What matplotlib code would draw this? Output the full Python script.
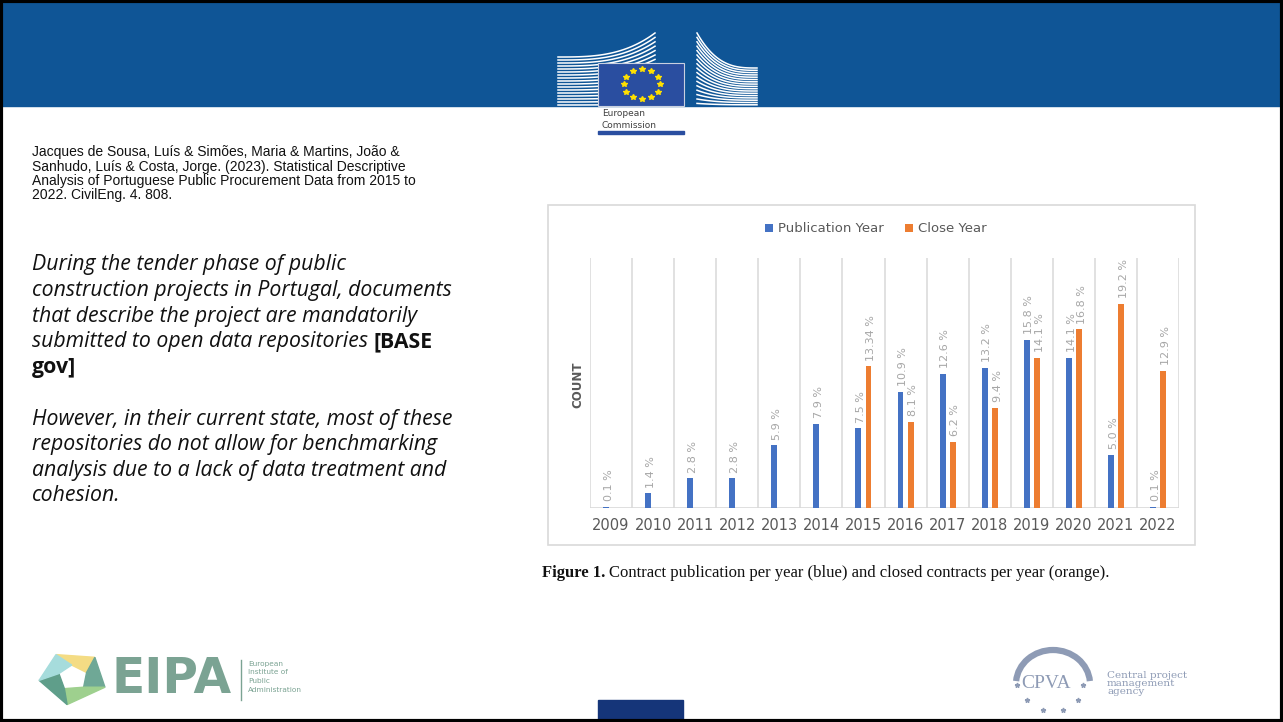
import numpy as np
import matplotlib
matplotlib.use("Agg")
import matplotlib.pyplot as plt
from matplotlib.patches import Rectangle, Polygon, Arc
from matplotlib.lines import Line2D

W, H = 1283, 722

years = [2009, 2010, 2011, 2012, 2013, 2014, 2015, 2016, 2017, 2018, 2019, 2020, 2021, 2022]
publication = [0.1, 1.4, 2.8, 2.8, 5.9, 7.9, 7.5, 10.9, 12.6, 13.2, 15.8, 14.1, 5.0, 0.1]
close = [None, None, None, None, None, None, 13.34, 8.1, 6.2, 9.4, 14.1, 16.8, 19.2, 12.9]

citation = ["Jacques de Sousa, Luís & Simões, Maria & Martins, João &",
            "Sanhudo, Luís & Costa, Jorge. (2023). Statistical Descriptive",
            "Analysis of Portuguese Public Procurement Data from 2015 to",
            "2022. CivilEng. 4. 808."]
para1 = ["During the tender phase of public",
         "construction projects in Portugal, documents",
         "that describe the project are mandatorily",
         "submitted to open data repositories "]
para2 = ["However, in their current state, most of these",
         "repositories do not allow for benchmarking",
         "analysis due to a lack of data treatment and",
         "cohesion."]

BLUE = "#4472c4"
ORANGE = "#ed7d31"
GREY = "#595959"


def fx(x):
    return x / W


def fy(y):
    return 1 - y / H


fig = plt.figure(figsize=(W / 100, H / 100), dpi=100)
fig.patch.set_facecolor("white")
r = fig.canvas.get_renderer()

# header band
fig.add_artist(Rectangle((0, fy(106)), 1, 106 / H, transform=fig.transFigure,
                         color="#0f5596", zorder=1))

# EC logo: building wings
for i in range(17):
    yl = 57 + i * 3
    yr = 33 + i * 4.4
    xs = np.linspace(558, 655, 40)
    t = (xs - 558) / 97
    ys = yl + (yr - yl) * t ** 3
    ys = np.minimum(ys, 105)
    fig.add_artist(Line2D(fx(xs), fy(ys), transform=fig.transFigure,
                          color="white", lw=1.1, zorder=2))
for i in range(17):
    yl = 33 + i * 4.4
    yr = 68 + i * 2.3
    xs = np.linspace(697, 757, 40)
    t = 1 - (xs - 697) / 60
    ys = yr + (yl - yr) * t ** 3
    ys = np.minimum(ys, 105)
    fig.add_artist(Line2D(fx(xs), fy(ys), transform=fig.transFigure,
                          color="white", lw=1.1, zorder=2))
fig.add_artist(Rectangle((fx(598), fy(106)), 86 / W, 43 / H, transform=fig.transFigure,
                         facecolor="#2a4ea0", edgecolor="#c8d0e0", lw=0.8, zorder=3))
ang = np.arange(12) * np.pi / 6
fig.add_artist(Line2D(fx(642 + 18 * np.cos(ang)), fy(84 + 15 * np.sin(ang)),
                      transform=fig.transFigure, ls="none", marker="*", ms=4.2,
                      color="#ffe000", mec="#ffe000", zorder=4))
fig.text(fx(602), fy(114), "European", fontsize=6.5, color="#404040", va="center")
fig.text(fx(602), fy(125), "Commission", fontsize=6.5, color="#404040", va="center")
fig.add_artist(Rectangle((fx(598), fy(134)), 86 / W, 3 / H, transform=fig.transFigure,
                         color="#2a4ea0", zorder=3))

# citation
for i, line in enumerate(citation):
    fig.text(fx(32), fy(152 + i * 14.5), line, fontsize=10, family="Liberation Sans",
             color="#111111", va="center")

# italic paragraphs
pfont = dict(family="Open Sans", fontsize=15.3, color="#111111", va="center")
for i, line in enumerate(para1):
    t = fig.text(fx(32), fy(265 + i * 25.6), line, style="italic", **pfont)
bb = t.get_window_extent(r)
fig.text(bb.x1 / W, fy(265 + 3 * 25.6), "[BASE", weight="bold", **pfont)
fig.text(fx(32), fy(265 + 4 * 25.6), "gov]", weight="bold", **pfont)
for i, line in enumerate(para2):
    fig.text(fx(32), fy(419 + i * 25.6), line, style="italic", **pfont)

# chart panel frame
fig.add_artist(Rectangle((fx(548), fy(545)), 647 / W, 340 / H, transform=fig.transFigure,
                         facecolor="white", edgecolor="#d9d9d9", lw=1.2, zorder=1))

ax = fig.add_axes([fx(590), fy(508), (1179 - 590) / W, (508 - 258) / H])
ax.set_zorder(5)
ax.patch.set_alpha(0)
x = np.arange(len(years))
ax.set_xlim(-0.5, len(years) - 0.5)
ax.set_ylim(0, 23.5)
for k in range(len(years) + 1):
    ax.axvline(k - 0.5, color="#d9d9d9", lw=1.1, zorder=0)
ax.axhline(0, color="#d9d9d9", lw=1.2, zorder=0)

px = [xi - 0.12 for xi in x]
cx = [xi + 0.12 for xi, v in zip(x, close) if v is not None]
cv = [v for v in close if v is not None]
ax.bar(px, publication, width=0.14, color=BLUE, label="Publication Year", zorder=2)
ax.bar(cx, cv, width=0.14, color=ORANGE, label="Close Year", zorder=2)


def fmt(v):
    return f"{v:.2f} %" if round(v, 1) != v else f"{v:.1f} %"


for xi, v in zip(px, publication):
    ax.annotate(fmt(v), (xi, v), xytext=(2, 4), textcoords="offset points",
                rotation=90, ha="center", va="bottom", fontsize=8, color="#a6a6a6")
for xi, v in zip(cx, cv):
    ax.annotate(fmt(v), (xi, v), xytext=(2, 4), textcoords="offset points",
                rotation=90, ha="center", va="bottom", fontsize=8, color="#a6a6a6")

ax.set_xticks(x)
ax.set_xticklabels([str(y) for y in years], fontsize=10.5, color=GREY)
ax.tick_params(axis="x", length=0, pad=7)
ax.set_yticks([])
for s in ax.spines.values():
    s.set_visible(False)

fig.text(fx(578), fy(385), "COUNT", rotation=90, fontsize=8.5, weight="bold",
         color=GREY, ha="center", va="center")
fig.legend(loc="center", bbox_to_anchor=(fx(876), fy(229)), ncol=2, frameon=False,
           fontsize=9.5, labelcolor=GREY, handlelength=0.6, handleheight=0.6,
           handletextpad=0.4, columnspacing=1.6)

# caption
cap1 = fig.text(fx(542), fy(573), "Figure 1.", family="Liberation Serif", weight="bold",
                fontsize=12, color="#111111", va="center")
bb = cap1.get_window_extent(r)
fig.text(bb.x1 / W + 4 / W, fy(573),
         "Contract publication per year (blue) and closed contracts per year (orange).",
         family="Liberation Serif", fontsize=12, color="#111111", va="center")

# EIPA logo
cxl, cyl = 73, 678
outer = [(cxl + 34 * np.cos(a), cyl + 27 * np.sin(a)) for a in np.radians([-120, -50, 20, 100, 175])]
inner = [(cxl + 15 * np.cos(a), cyl + 13 * np.sin(a)) for a in np.radians([-95, -25, 45, 125, 200])]
seg_colors = ["#f4dc84", "#6fa896", "#9ed08e", "#5f9e8a", "#a6dcdc"]
for i in range(5):
    j = (i + 1) % 5
    poly = [outer[i], outer[j], inner[j], inner[i]]
    fig.add_artist(Polygon([(fx(a), fy(b)) for a, b in poly], closed=True,
                           transform=fig.transFigure, color=seg_colors[i], zorder=2))
fig.text(fx(111), fy(679), "EIPA", fontsize=35, weight="bold", color="#7ba393",
         va="center")
fig.add_artist(Line2D([fx(241), fx(241)], [fy(660), fy(700)], transform=fig.transFigure,
                      color="#7ba393", lw=1))
for i, line in enumerate(["European", "Institute of", "Public", "Administration"]):
    fig.text(fx(248), fy(664 + i * 8.5), line, fontsize=5.3, color="#7ba393", va="center")

# CPVA logo
fig.add_artist(Arc((fx(1053), fy(684)), 74 / W, 68 / H, theta1=8, theta2=172,
                   transform=fig.transFigure, color="#8e9bb5", lw=4.5))
fig.text(fx(1046), fy(684), "CPVA", family="Liberation Serif", fontsize=14,
         color="#8e9bb5", ha="center", va="center")
fig.add_artist(Line2D(fx(np.array([1017, 1083, 1027, 1078, 1043, 1063])),
                      fy(np.array([685, 685, 700, 700, 710, 710])),
                      transform=fig.transFigure, ls="none", marker="*", ms=3.5,
                      color="#8e9bb5"))
for i, line in enumerate(["Central project", "management", "agency"]):
    fig.text(fx(1107), fy(675 + i * 8), line, family="DejaVu Serif", fontsize=7.5,
             color="#8e9bb5", va="center")

# bottom tab
fig.add_artist(Rectangle((fx(598), fy(720)), 85 / W, 20 / H, transform=fig.transFigure,
                         color="#153579", zorder=2))

# slide border
fig.add_artist(Rectangle((0.001, 0.002), 0.998, 0.996, transform=fig.transFigure,
                         fill=False, edgecolor="black", lw=3, zorder=10))

fig.savefig("out.png", dpi=100)
